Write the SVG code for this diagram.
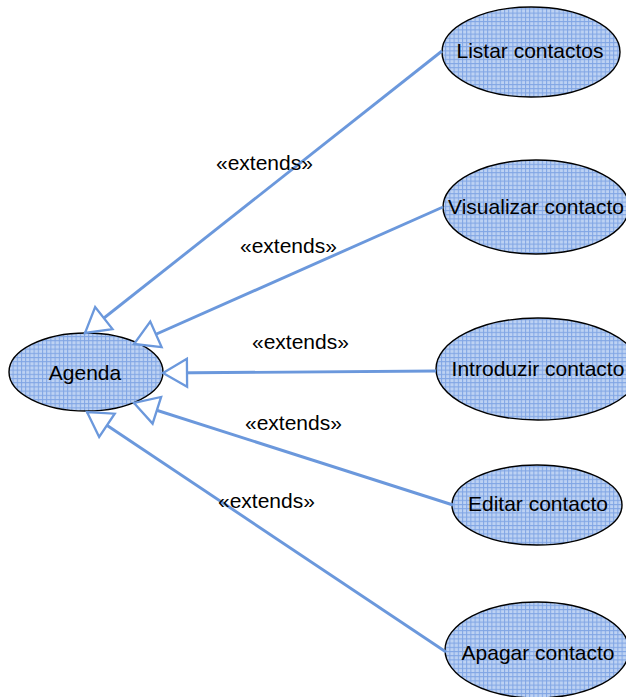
<svg xmlns="http://www.w3.org/2000/svg" width="626" height="697" viewBox="0 0 626 697">
<style>
.node ellipse{fill:url(#grid);stroke:#000;stroke-width:1.4}
.node text{font-family:"Liberation Sans",Arial,sans-serif;font-size:21px;fill:#000;text-anchor:middle}
.edge{fill:none;stroke:#6b98dc;stroke-width:2.9;marker-end:url(#tri)}
.lbl{font-family:"Liberation Sans",Arial,sans-serif;font-size:21px;fill:#000}
</style>
<defs>
<pattern id="grid" patternUnits="userSpaceOnUse" width="4.2" height="4.2">
<rect width="4.2" height="4.2" fill="#bdd2f3"/>
<path d="M0,0.5H4.2M0.5,0V4.2" stroke="#80a5e4" stroke-width="1"/>
</pattern>
<marker id="tri" markerUnits="userSpaceOnUse" markerWidth="32" markerHeight="34" viewBox="-3 -17 32 34" refX="24" refY="0" orient="auto">
<path d="M0,-14L24,0L0,14Z" fill="#fff" stroke="#6b98dc" stroke-width="2.3" stroke-linejoin="miter"/>
</marker>
</defs>
<g id="nodes">
<g id="agenda" class="node"><ellipse cx="86" cy="372" rx="77" ry="39"/><text x="85" y="380">Agenda</text></g>
<g id="listar" class="node"><ellipse cx="531" cy="52" rx="89" ry="45"/><text x="530" y="58">Listar contactos</text></g>
<g id="visualizar" class="node"><ellipse cx="536" cy="207" rx="93" ry="47"/><text x="536" y="214">Visualizar contacto</text></g>
<g id="introduzir" class="node"><ellipse cx="538" cy="369" rx="102" ry="51"/><text x="538" y="376">Introduzir contacto</text></g>
<g id="editar" class="node"><ellipse cx="537" cy="505" rx="85" ry="40"/><text x="538" y="511">Editar contacto</text></g>
<g id="apagar" class="node"><ellipse cx="537" cy="650" rx="92" ry="48"/><text x="538" y="660">Apagar contacto</text></g>
</g>
<g id="connectors">
<path class="edge" d="M442,51L85,333"/>
<path class="edge" d="M443,207L134,344"/>
<path class="edge" d="M436,371L163,373"/>
<path class="edge" d="M453,505L134,403"/>
<path class="edge" d="M446,652L87,412"/>
<text class="lbl" x="216" y="170">«extends»</text>
<text class="lbl" x="240" y="253">«extends»</text>
<text class="lbl" x="252" y="349">«extends»</text>
<text class="lbl" x="245" y="430">«extends»</text>
<text class="lbl" x="218" y="508">«extends»</text>
</g>
</svg>
